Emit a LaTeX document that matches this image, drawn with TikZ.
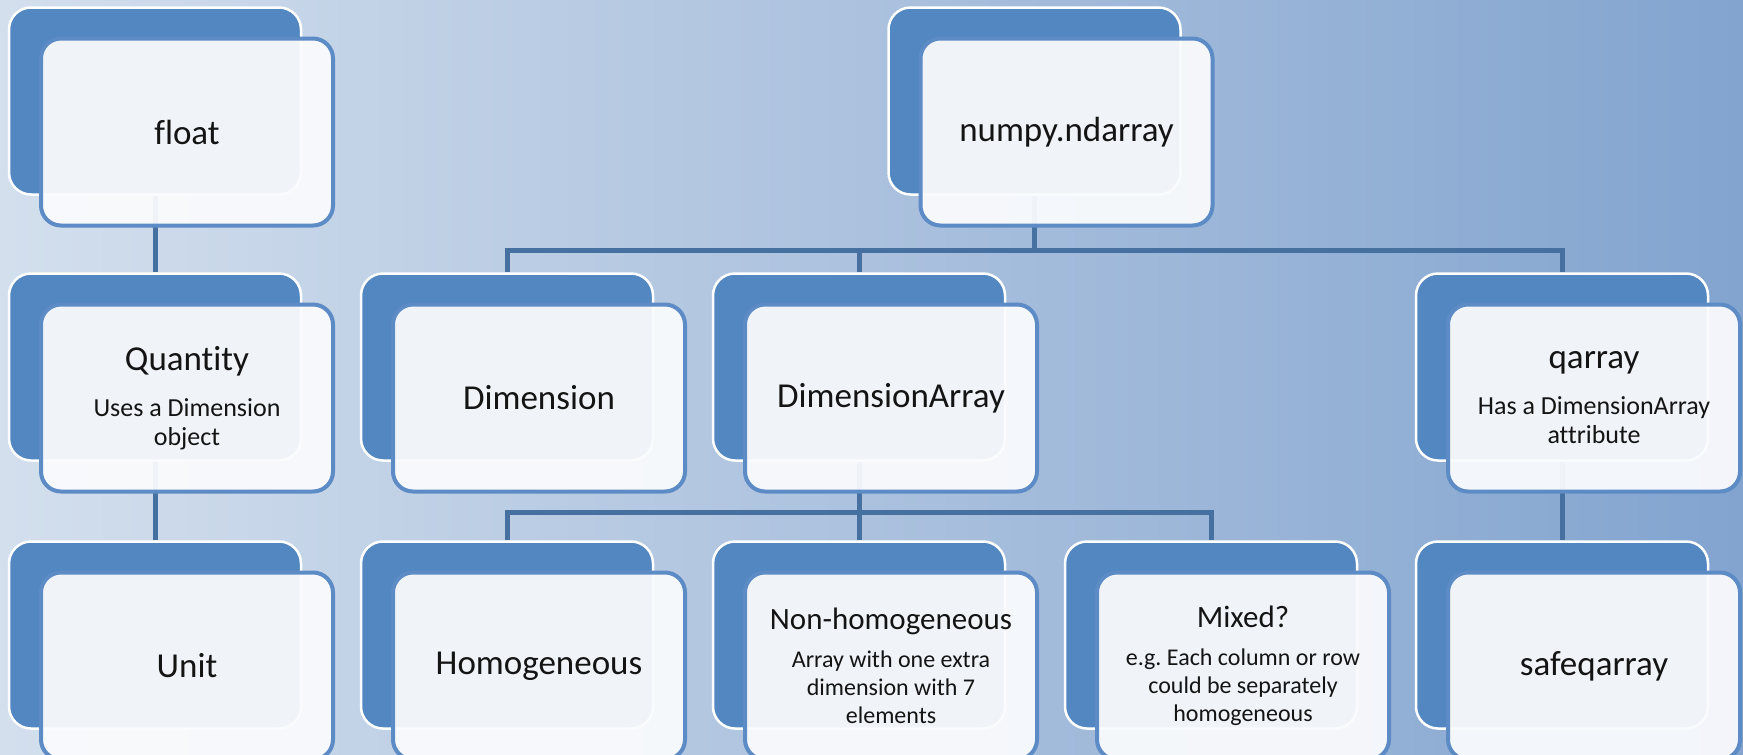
\documentclass[tikz,border=0pt]{standalone}
\usepackage{fontspec}
\setmainfont{Carlito}[Ligatures=NoCommon]
\frenchspacing
\definecolor{bg0}{HTML}{F8FAFD}
\definecolor{bg1}{HTML}{D3DFED}
\definecolor{bg2}{HTML}{ABC1DE}
\definecolor{bg3}{HTML}{82A4CF}
\definecolor{bg4}{HTML}{5080BE}
\definecolor{boxblue}{HTML}{5387C1}
\definecolor{edgeblue}{HTML}{5C8BC5}
\definecolor{frontfill}{HTML}{FAFBFD}
\definecolor{linkblue}{HTML}{46709F}
\pgfdeclarehorizontalshading{bgshade}{100bp}{color(0bp)=(bg0); color(25bp)=(bg1); color(50bp)=(bg2); color(75bp)=(bg3); color(100bp)=(bg4)}
\tikzset{
  backbox/.style={draw=white, line width=2.5pt, fill=boxblue, rounded corners=22pt,
    minimum width=292pt, minimum height=187pt, inner sep=0pt},
  frontbox/.style={draw=edgeblue, line width=4pt, fill=frontfill, fill opacity=0.94,
    text opacity=1, rounded corners=20pt, minimum width=292pt, minimum height=187pt,
    inner sep=0pt, align=center, text=black!92, font=\fontsize{35}{42}\selectfont},
  subbox/.style={frontbox, font=\fontsize{26}{29}\selectfont},
  smallbox/.style={frontbox, font=\fontsize{24}{28}\selectfont},
  conn/.style={draw=linkblue, line width=5pt},
}
\newcommand{\ttl}[1]{{\fontsize{35}{42}\selectfont #1}}
\newcommand{\ttlb}[1]{{\fontsize{31}{36}\selectfont #1}}
\begin{document}
\begin{tikzpicture}[x=1pt, y=-1pt]
\useasboundingbox (0,0) rectangle (1743,755);
\fill[shading=bgshade] (0,0) rectangle (1743,755);

% bus coordinates
\coordinate (bus1) at (0,250);
\coordinate (bus2) at (0,512);

% back boxes
\node[backbox] (floatB) at (155,101) {};
\node[backbox] (quantB) at (155,367) {};
\node[backbox] (unitB)  at (155,635) {};
\node[backbox] (numpyB) at (1034.5,101) {};
\node[backbox] (dimB)   at (507,367) {};
\node[backbox] (darrB)  at (859,367) {};
\node[backbox] (qarrB)  at (1562,367) {};
\node[backbox] (homB)   at (507,635) {};
\node[backbox] (nonB)   at (859,635) {};
\node[backbox] (mixB)   at (1211,635) {};
\node[backbox] (safeB)  at (1562,635) {};

% connectors
\draw[conn] (floatB.south) -- (quantB.north);
\draw[conn] (quantB.south) -- (unitB.north);
\draw[conn] (qarrB.south) -- (safeB.north);
\draw[conn] (numpyB.south) -- (numpyB.south |- bus1);
\draw[conn] (dimB.north) |- (qarrB.north |- bus1) -- (qarrB.north);
\draw[conn] (darrB.north) -- (darrB.north |- bus1);
\draw[conn] (darrB.south) -- (darrB.south |- bus2);
\draw[conn] (homB.north) |- (mixB.north |- bus2) -- (mixB.north);
\draw[conn] (nonB.north) -- (nonB.north |- bus2);

% front boxes
\node[frontbox] (floatF) at ([shift={(32,31)}]floatB.center) {float};
\node[subbox]   (quantF) at ([shift={(32,31)}]quantB.center) {\ttl{Quantity}\\[17pt]Uses a Dimension\\object};
\node[frontbox] (unitF)  at ([shift={(32,31)}]unitB.center) {Unit};
\node[frontbox] (numpyF) at ([shift={(32,31)}]numpyB.center) {numpy.ndarray};
\node[frontbox] (dimF)   at ([shift={(32,31)}]dimB.center) {Dimension};
\node[frontbox] (darrF)  at ([shift={(32,31)}]darrB.center) {DimensionArray};
\node[subbox]   (qarrF)  at ([shift={(32,31)}]qarrB.center) {\ttl{qarray}\\[17pt]Has a DimensionArray\\attribute};
\node[frontbox] (homF)   at ([shift={(32,31)}]homB.center) {Homogeneous};
\node[smallbox] (nonF)   at ([shift={(32,31)}]nonB.center) {\ttlb{Non-homogeneous}\\[10pt]Array with one extra\\dimension with 7\\elements};
\node[smallbox] (mixF)   at ([shift={(32,31)}]mixB.center) {\ttlb{Mixed?}\\[10pt]e.g. Each column or row\\could be separately\\homogeneous};
\node[frontbox] (safeF)  at ([shift={(32,31)}]safeB.center) {safeqarray};
\end{tikzpicture}
\end{document}
